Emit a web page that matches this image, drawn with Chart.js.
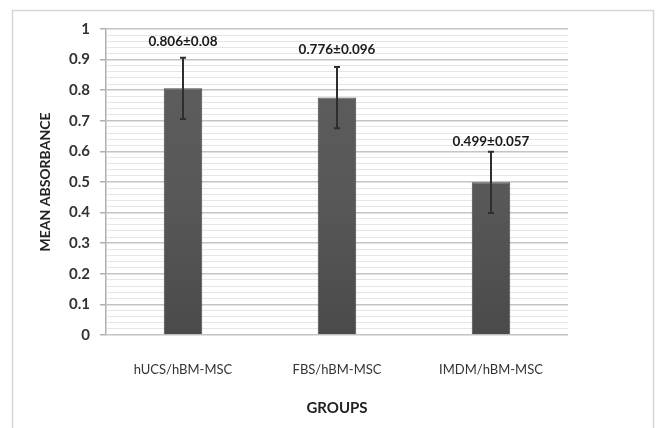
<!DOCTYPE html>
<html>
<head>
<meta charset="utf-8">
<script src="https://cdn.jsdelivr.net/npm/chart.js@4.4.1/dist/chart.umd.min.js"></script>
<style>
  html, body { margin: 0; padding: 0; background: #fff; }
  #wrap { width: 656px; height: 428px; position: relative; }
</style>
</head>
<body>
<div id="wrap"><canvas id="absChart"></canvas></div>
<script>
// data
const groups = ['hUCS/hBM-MSC', 'FBS/hBM-MSC', 'IMDM/hBM-MSC'];
const means  = [0.806, 0.776, 0.499];
const errors = [0.1, 0.1, 0.1];           // error bars as drawn in the figure
const valueLabels = ['0.806±0.08', '0.776±0.096', '0.499±0.057'];
const labelGap = [16, 17, 10];           // px above the error bar cap

const isMajor = v => Math.abs(v * 10 - Math.round(v * 10)) < 1e-6;
const FONT = 'Lato, "Open Sans", sans-serif';

// frame, error bars and value labels
const extras = {
  id: 'extras',
  beforeDraw(chart) {
    const { ctx } = chart;
    ctx.save();
    ctx.strokeStyle = '#d6d6d6';
    ctx.lineWidth = 1.5;
    ctx.beginPath();
    ctx.moveTo(12.5, 430);
    ctx.lineTo(12.5, 10.5);
    ctx.lineTo(653.5, 10.5);
    ctx.lineTo(653.5, 430);
    ctx.stroke();
    ctx.restore();
  },
  afterDatasetsDraw(chart) {
    const { ctx, scales: { y } } = chart;
    const meta = chart.getDatasetMeta(0);
    ctx.save();
    meta.data.forEach((bar, i) => {
      const top = y.getPixelForValue(means[i] + errors[i]);
      const bot = y.getPixelForValue(means[i] - errors[i]);
      ctx.strokeStyle = '#2e2e2e';
      ctx.lineWidth = 2;
      ctx.beginPath();
      ctx.moveTo(bar.x, top);
      ctx.lineTo(bar.x, bot);
      ctx.moveTo(bar.x - 3, top);
      ctx.lineTo(bar.x + 3, top);
      ctx.moveTo(bar.x - 3, bot);
      ctx.lineTo(bar.x + 3, bot);
      ctx.stroke();

      ctx.fillStyle = '#1a1a1a';
      ctx.font = 'bold 13.5px ' + FONT;
      ctx.textAlign = 'center';
      ctx.textBaseline = 'middle';
      ctx.fillText(valueLabels[i], bar.x, top - labelGap[i]);
    });
    ctx.restore();
  }
};

const ctx = document.getElementById('absChart').getContext('2d');
new Chart(ctx, {
  type: 'bar',
  data: {
    labels: groups,
    datasets: [{
      data: means,
      backgroundColor: (c) => {
        const area = c.chart.chartArea;
        if (!area) return '#4e4e4e';
        const g = c.chart.ctx.createLinearGradient(0, area.top, 0, area.bottom);
        g.addColorStop(0, '#5e5e5e');
        g.addColorStop(0.55, '#585858');
        g.addColorStop(1, '#4a4a4a');
        return g;
      },
      borderColor: '#464646',
      borderWidth: 1,
      barPercentage: 0.25,
      categoryPercentage: 1
    }]
  },
  options: {
    responsive: true,
    maintainAspectRatio: false,
    animation: false,
    layout: { padding: { top: 29, right: 88, left: 0, bottom: 0 } },
    plugins: { legend: { display: false }, tooltip: { enabled: false } },
    scales: {
      x: {
        grid: { display: false },
        border: { display: false },
        ticks: {
          color: '#333',
          padding: 19,
          font: { family: FONT, size: 13 }
        },
        title: {
          display: true,
          text: 'GROUPS',
          color: '#222',
          padding: { top: 0, bottom: 11 },
          font: { family: FONT, size: 15, weight: 'bold' }
        },
        afterFit: s => { s.height = 93; }
      },
      y: {
        min: 0,
        max: 1,
        border: { display: true, color: '#b0b0b0', width: 1.5 },
        grid: {
          color: c => isMajor(c.tick.value) ? '#c4c4c4' : '#e6e6e6',
          lineWidth: c => isMajor(c.tick.value) ? 1.5 : 1,
          tickColor: c => isMajor(c.tick.value) ? '#b0b0b0' : 'rgba(0,0,0,0)',
          tickLength: 6
        },
        ticks: {
          stepSize: 0.02,
          autoSkip: false,
          padding: 10,
          color: '#333',
          font: { family: FONT, size: 15, weight: 'bold' },
          callback: v => isMajor(v) ? String(Math.round(v * 10) / 10) : ''
        },
        title: {
          display: true,
          text: 'MEAN ABSORBANCE',
          color: '#222',
          padding: { top: 37, bottom: 0 },
          font: { family: FONT, size: 14, weight: 'bold' }
        },
        afterFit: s => { s.width = 106; }
      }
    }
  },
  plugins: [extras]
});
</script>
</body>
</html>
